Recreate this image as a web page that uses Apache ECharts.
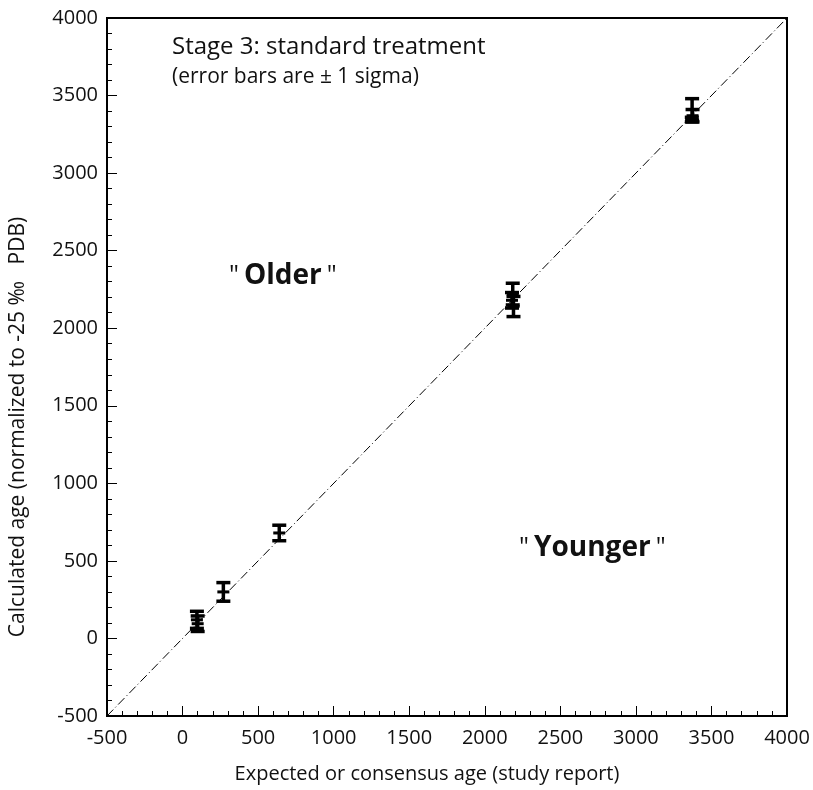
<!DOCTYPE html>
<html><head><meta charset="utf-8">
<script src="https://cdn.jsdelivr.net/npm/echarts@6/dist/echarts.min.js"></script>
<style>html,body{margin:0;padding:0;background:#fff}#c{width:813px;height:790px}</style>
</head><body><div id="c"></div>
<script>
// Data
const expectedAge = [95, 100, 270, 640, 2185, 2190, 2180, 3372, 3375, 3370];
const calculatedAge = [120, 95, 300, 680, 2220, 2140, 2180, 3410, 3370, 3345];
const sigma = [55, 50, 60, 50, 70, 65, 50, 70, 40, 15];
const axisTicks = [-500, 0, 500, 1000, 1500, 2000, 2500, 3000, 3500, 4000];
const diagonal = [[-500, -500], [4000, 4000]];

const FONT = '"Open Sans", "Noto Sans", sans-serif';
const chart = echarts.init(document.getElementById('c'), null, {renderer: 'canvas'});
const points = expectedAge.map((x, i) => [x, calculatedAge[i], sigma[i]]);

const axisCommon = {
  type: 'value', min: axisTicks[0], max: axisTicks[axisTicks.length - 1], interval: 500,
  axisLine: {show: true, onZero: false, lineStyle: {color: '#000', width: 2}},
  axisTick: {show: true, inside: true, length: 10, lineStyle: {color: '#000', width: 1}},
  minorTick: {show: true, splitNumber: 5, length: 5, lineStyle: {color: '#000', width: 1}},
  splitLine: {show: false},
  axisLabel: {color: '#111', fontSize: 20, fontFamily: FONT, formatter: v => String(v)},
  nameTextStyle: {color: '#111', fontSize: 20, fontFamily: FONT},
  nameLocation: 'middle'
};

const rich = {q: {font: '25px ' + FONT, fill: '#111', padding: [0, 5, 0, 5]}, b: {font: 'bold 28px ' + FONT, fill: '#111'}};

chart.setOption({
  animation: false,
  backgroundColor: '#fff',
  grid: {left: 106, right: 26, top: 18, bottom: 74, show: true, borderColor: '#000', borderWidth: 2, backgroundColor: 'transparent'},
  xAxis: Object.assign({}, axisCommon, {
    name: 'Expected or consensus age (study report)', nameGap: 48,
    nameTextStyle: Object.assign({}, axisCommon.nameTextStyle, {padding: [0, 40, 0, 0]}),
    axisLabel: Object.assign({}, axisCommon.axisLabel, {margin: 12})
  }),
  yAxis: Object.assign({}, axisCommon, {
    name: 'Calculated age (normalized to -25 \u2030   PDB)', nameGap: 78,
    nameTextStyle: Object.assign({}, axisCommon.nameTextStyle, {fontSize: 21, padding: [0, 120, 0, 0]}),
    axisLabel: Object.assign({}, axisCommon.axisLabel, {margin: 9})
  }),
  graphic: [
    {type: 'text', left: 172, top: 35, style: {text: 'Stage 3: standard treatment', font: '24px ' + FONT, fill: '#111'}},
    {type: 'text', left: 172, top: 67, style: {text: '(error bars are \u00b1 1 sigma)', font: '21px ' + FONT, fill: '#111'}},
    {type: 'text', left: 229, top: 262, style: {text: '{q|"}{b|Older}{q|"}', rich: rich}},
    {type: 'text', left: 519, top: 534, style: {text: '{q|"}{b|Younger}{q|"}', rich: rich}}
  ],
  series: [
    {
      type: 'line', data: diagonal, symbol: 'none', silent: true,
      lineStyle: {color: '#000', width: 1, type: [9, 3, 1, 3]}
    },
    {
      type: 'custom', data: points, silent: true,
      renderItem: function (params, api) {
        const x = api.value(0), y = api.value(1), s = api.value(2);
        const top = api.coord([x, y + s]);
        const bot = api.coord([x, y - s]);
        const c = api.coord([x, y]);
        const cw = 7;
        const st = {stroke: '#000', lineWidth: 3.5};
        return {
          type: 'group',
          children: [
            {type: 'line', shape: {x1: top[0], y1: top[1], x2: bot[0], y2: bot[1]}, style: st},
            {type: 'line', shape: {x1: top[0] - cw, y1: top[1], x2: top[0] + cw, y2: top[1]}, style: st},
            {type: 'line', shape: {x1: bot[0] - cw, y1: bot[1], x2: bot[0] + cw, y2: bot[1]}, style: st},
            {type: 'line', shape: {x1: c[0] - 6, y1: c[1], x2: c[0] + 6, y2: c[1]}, style: {stroke: '#000', lineWidth: 3}}
          ]
        };
      }
    }
  ]
});
</script>
</body></html>
